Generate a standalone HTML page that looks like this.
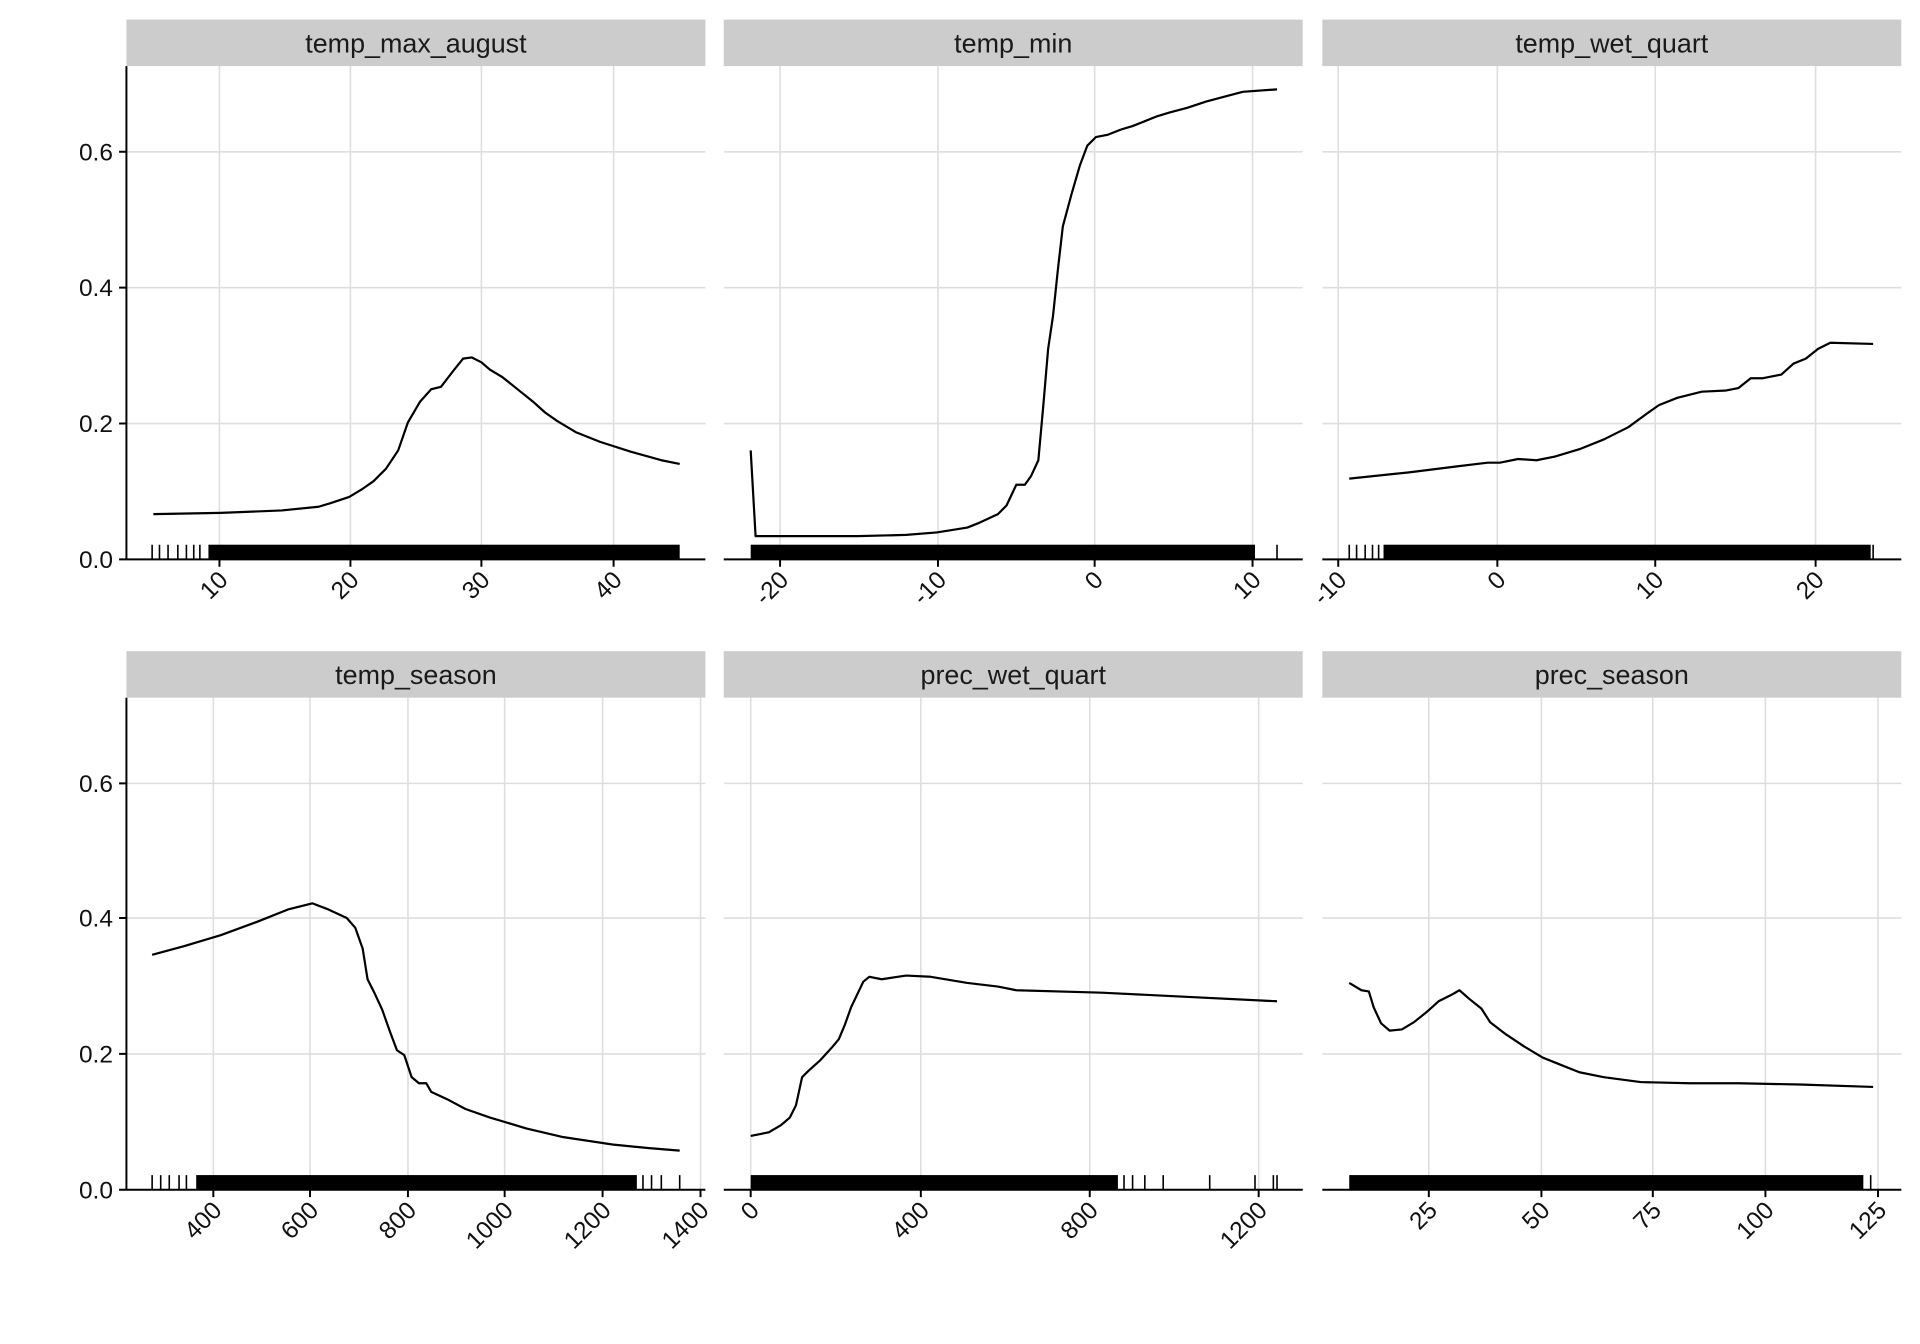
<!DOCTYPE html>
<html><head><meta charset="utf-8"><style>
html,body{margin:0;padding:0;background:#fff;}
svg{display:block;}
text{font-family:"Liberation Sans",Arial,sans-serif;}
</style></head><body>
<svg width="1920" height="1344" viewBox="0 0 1568 1098" xmlns="http://www.w3.org/2000/svg">
<rect width="1568" height="1098" fill="#fff"/>
<g stroke="#dedede" stroke-width="1.3" fill="none">
<path d="M103 457H576M103 346H576M103 235H576M103 124H576M591 457H1064M591 346H1064M591 235H1064M591 124H1064M1080 457H1553M1080 346H1553M1080 235H1553M1080 124H1553"/>
<path d="M103 972H576M103 861H576M103 750H576M103 640H576M591 972H1064M591 861H1064M591 750H1064M591 640H1064M1080 972H1553M1080 861H1553M1080 750H1553M1080 640H1553"/>
<path d="M179 54V457M286 54V457M393 54V457M501 54V457"/>
<path d="M637 54V457M766 54V457M894 54V457M1023 54V457"/>
<path d="M1093 54V457M1223 54V457M1352 54V457M1483 54V457"/>
<path d="M174 570V972M253 570V972M333 570V972M412 570V972M492 570V972M572 570V972"/>
<path d="M613 570V972M752 570V972M890 570V972M1028 570V972"/>
<path d="M1167 570V972M1259 570V972M1350 570V972M1442 570V972M1534 570V972"/>
</g>
<g fill="#cccccc">
<rect x="103" y="16" width="473" height="38"/><rect x="591" y="16" width="473" height="38"/><rect x="1080" y="16" width="473" height="38"/>
<rect x="103" y="532" width="473" height="38"/><rect x="591" y="532" width="473" height="38"/><rect x="1080" y="532" width="473" height="38"/>
</g>
<g font-size="22" fill="#1a1a1a" text-anchor="middle">
<text x="339.5" y="43">temp_max_august</text><text x="827.5" y="43">temp_min</text><text x="1316.5" y="43">temp_wet_quart</text>
<text x="339.5" y="559">temp_season</text><text x="827.5" y="559">prec_wet_quart</text><text x="1316.5" y="559">prec_season</text>
</g>
<g stroke="#000" stroke-width="1.6" fill="none">
<path d="M103 54V457M103 570V972"/>
<path d="M103 457H576M591 457H1064M1080 457H1553M103 972H576M591 972H1064M1080 972H1553"/>
<path d="M97 457H103M97 346H103M97 235H103M97 124H103M97 972H103M97 861H103M97 750H103M97 640H103"/>
<path d="M179 457v6M286 457v6M393 457v6M501 457v6M637 457v6M766 457v6M894 457v6M1023 457v6M1093 457v6M1223 457v6M1352 457v6M1483 457v6"/>
<path d="M174 972v6M253 972v6M333 972v6M412 972v6M492 972v6M572 972v6M613 972v6M752 972v6M890 972v6M1028 972v6M1167 972v6M1259 972v6M1350 972v6M1442 972v6M1534 972v6"/>
</g>
<g font-size="20" fill="#111" text-anchor="end">
<text x="92" y="464">0.0</text><text x="92" y="353">0.2</text><text x="92" y="242">0.4</text><text x="92" y="131">0.6</text>
<text x="92" y="979">0.0</text><text x="92" y="868">0.2</text><text x="92" y="757">0.4</text><text x="92" y="647">0.6</text>
</g>
<g font-size="20" fill="#111" text-anchor="end">
<text transform="translate(187,475) rotate(-45)">10</text>
<text transform="translate(294,475) rotate(-45)">20</text>
<text transform="translate(401,475) rotate(-45)">30</text>
<text transform="translate(509,475) rotate(-45)">40</text>
<text transform="translate(645,475) rotate(-45)">-20</text>
<text transform="translate(774,475) rotate(-45)">-10</text>
<text transform="translate(902,475) rotate(-45)">0</text>
<text transform="translate(1031,475) rotate(-45)">10</text>
<text transform="translate(1101,475) rotate(-45)">-10</text>
<text transform="translate(1231,475) rotate(-45)">0</text>
<text transform="translate(1360,475) rotate(-45)">10</text>
<text transform="translate(1491,475) rotate(-45)">20</text>
<text transform="translate(182,990) rotate(-45)">400</text>
<text transform="translate(261,990) rotate(-45)">600</text>
<text transform="translate(341,990) rotate(-45)">800</text>
<text transform="translate(420,990) rotate(-45)">1000</text>
<text transform="translate(500,990) rotate(-45)">1200</text>
<text transform="translate(580,990) rotate(-45)">1400</text>
<text transform="translate(621,990) rotate(-45)">0</text>
<text transform="translate(760,990) rotate(-45)">400</text>
<text transform="translate(898,990) rotate(-45)">800</text>
<text transform="translate(1036,990) rotate(-45)">1200</text>
<text transform="translate(1175,990) rotate(-45)">25</text>
<text transform="translate(1267,990) rotate(-45)">50</text>
<text transform="translate(1358,990) rotate(-45)">75</text>
<text transform="translate(1450,990) rotate(-45)">100</text>
<text transform="translate(1542,990) rotate(-45)">125</text>
</g>
<g fill="#000">
<rect x="170" y="445" width="385" height="12"/>
<rect x="613" y="445" width="412" height="12"/>
<rect x="1130" y="445" width="398" height="12"/>
<rect x="160" y="960" width="360" height="12"/>
<rect x="613" y="960" width="300" height="12"/>
<rect x="1102" y="960" width="420" height="12"/>
</g>
<g stroke="#000" stroke-width="1.3">
<path d="M124 445v12M130 445v12M137 445v12M145 445v12M152 445v12M158 445v12M163 445v12"/>
<path d="M1043 445v12M1102 445v12M1108 445v12M1115 445v12M1121 445v12M1126 445v12M1530 445v12"/>
<path d="M124 960v12M131 960v12M138 960v12M146 960v12M152 960v12M525 960v12M532 960v12M540 960v12M555 960v12"/>
<path d="M918 960v12M925 960v12M935 960v12M950 960v12M988 960v12M1025 960v12M1040 960v12M1043 960v12M1528 960v12"/>
</g>
<g stroke="#000" stroke-width="1.8" fill="none" stroke-linejoin="round">
<polyline points="125,420 180,419 230,417 260,414 270,411 285,406 295,400 305,393 315,383 325,368 333,345 343,328 352,318 360,316 370,303 378,293 385,292 393,296 400,302 410,308 415,312 425,320 435,328 445,337 455,344 470,353 490,361 515,369 540,376 555,379"/>
<polyline points="613,368 617,438 700,438 740,437 765,435 790,431 800,427 815,420 822,413 830,396 837,396 842,389 848,376 852,332 856,285 860,258 864,220 868,185 875,159 882,135 888,119 895,112 905,110 915,106 925,103 935,99 945,95 955,92 970,88 985,83 1000,79 1015,75 1043,73"/>
<polyline points="1102,391 1150,386 1190,381 1215,378 1225,378 1240,375 1255,376 1270,373 1290,367 1310,359 1330,349 1345,338 1355,331 1370,325 1390,320 1410,319 1420,317 1430,309 1440,309 1455,306 1465,297 1475,293 1485,285 1495,280 1530,281"/>
<polyline points="124,780 150,773 180,764 210,753 235,743 255,738 268,743 283,750 290,758 296,775 300,800 306,812 312,825 318,842 324,858 330,862 336,880 342,885 348,885 352,892 365,898 380,906 400,913 430,922 460,929 500,935 530,938 555,940"/>
<polyline points="613,928 628,925 638,919 645,913 650,903 655,880 660,875 670,866 680,855 685,849 690,837 695,823 705,802 710,798 720,800 740,797 760,798 790,803 815,806 830,809 900,811 1043,818"/>
<polyline points="1102,803 1112,809 1118,810 1122,823 1128,836 1135,842 1145,841 1155,835 1165,827 1175,818 1185,813 1192,809 1200,816 1210,824 1217,835 1230,845 1245,855 1260,864 1275,870 1290,876 1310,880 1340,884 1380,885 1420,885 1470,886 1530,888"/>
</g>
</svg>
</body></html>
